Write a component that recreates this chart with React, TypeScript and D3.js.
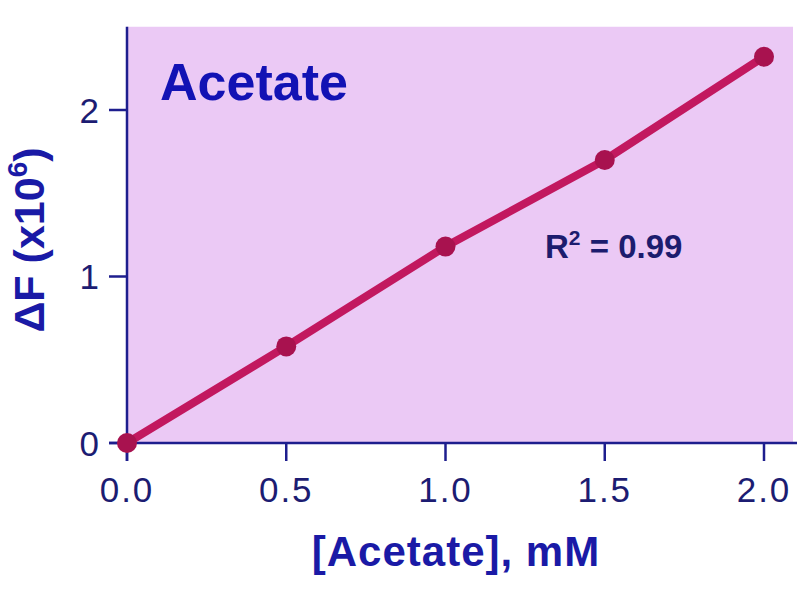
import React from "react";
import * as d3 from "d3";

const concentrations = [0, 0.5, 1.0, 1.5, 2.0];
const deltaF = [0, 0.58, 1.18, 1.7, 2.32];
const xTicks = [0, 0.5, 1.0, 1.5, 2.0];
const yTicks = [0, 1, 2];

const W = 800;
const H = 600;
const left = 127;
const right = 795;
const bottom = 443;

export default function App() {
  const x = d3.scaleLinear().domain([0, 2.1]).range([left, left + 318.5 * 2.1]);
  const y = d3.scaleLinear().domain([0, 2.5]).range([bottom, bottom - 166.5 * 2.5]);
  const pts = concentrations.map((c, i) => [c, deltaF[i]] as [number, number]);
  const line = d3.line<[number, number]>().x((d) => x(d[0])).y((d) => y(d[1]));
  const axisColor = "#1e1e8e";
  const labelColor = "#1c1c72";
  return (
    <svg
      width={W}
      height={H}
      style={{ position: "absolute", left: 0, top: 0, background: "#fff" }}
      fontFamily="'Liberation Sans', Arial, sans-serif"
    >
      <rect x={left} y={y(2.5)} width={right - 2 - left} height={bottom - y(2.5)} fill="#ebc9f5" />
      <line x1={left} x2={left} y1={y(2.5)} y2={bottom + 18} stroke={axisColor} strokeWidth={2.5} />
      <line x1={left - 18} x2={right + 2} y1={bottom} y2={bottom} stroke={axisColor} strokeWidth={2.5} />
      {yTicks.map((t) => (
        <g key={"y" + t}>
          <line x1={left - 18} x2={left} y1={y(t)} y2={y(t)} stroke={axisColor} strokeWidth={2.5} />
          <text x={99} y={y(t)} dy="0.36em" textAnchor="end" fontSize={35} fill={labelColor}>
            {t}
          </text>
        </g>
      ))}
      {xTicks.map((t) => (
        <g key={"x" + t}>
          <line x1={x(t)} x2={x(t)} y1={bottom} y2={bottom + 18} stroke={axisColor} strokeWidth={2.5} />
          <text x={x(t)} y={502} textAnchor="middle" fontSize={35} fill={labelColor} letterSpacing={2}>
            {t.toFixed(1)}
          </text>
        </g>
      ))}
      <path d={line(pts) || ""} fill="none" stroke="#c2185f" strokeWidth={8} strokeLinecap="round" />
      {pts.map((p, i) => (
        <circle key={i} cx={x(p[0])} cy={y(p[1])} r={10} fill="#a8124f" />
      ))}
      <text x={160} y={100} fontSize={52} fontWeight="bold" fill="#1212b4">
        Acetate
      </text>
      <text x={545} y={258} fontSize={33} fontWeight="bold" fill="#1c1c6e">
        R<tspan dy={-13} fontSize={21}>2</tspan>
        <tspan dy={13}> = 0.99</tspan>
      </text>
      <text x={456} y={566} textAnchor="middle" fontSize={42} fontWeight="bold" fill="#1a1aa6" letterSpacing={1}>
        [Acetate], mM
      </text>
      <text
        transform="translate(44,240) rotate(-90)"
        textAnchor="middle"
        fontSize={43}
        fontWeight="bold"
        fill="#1a1aa6"
      >
        ΔF (x10<tspan dy={-17} fontSize={28}>6</tspan>
        <tspan dy={17}>)</tspan>
      </text>
    </svg>
  );
}
